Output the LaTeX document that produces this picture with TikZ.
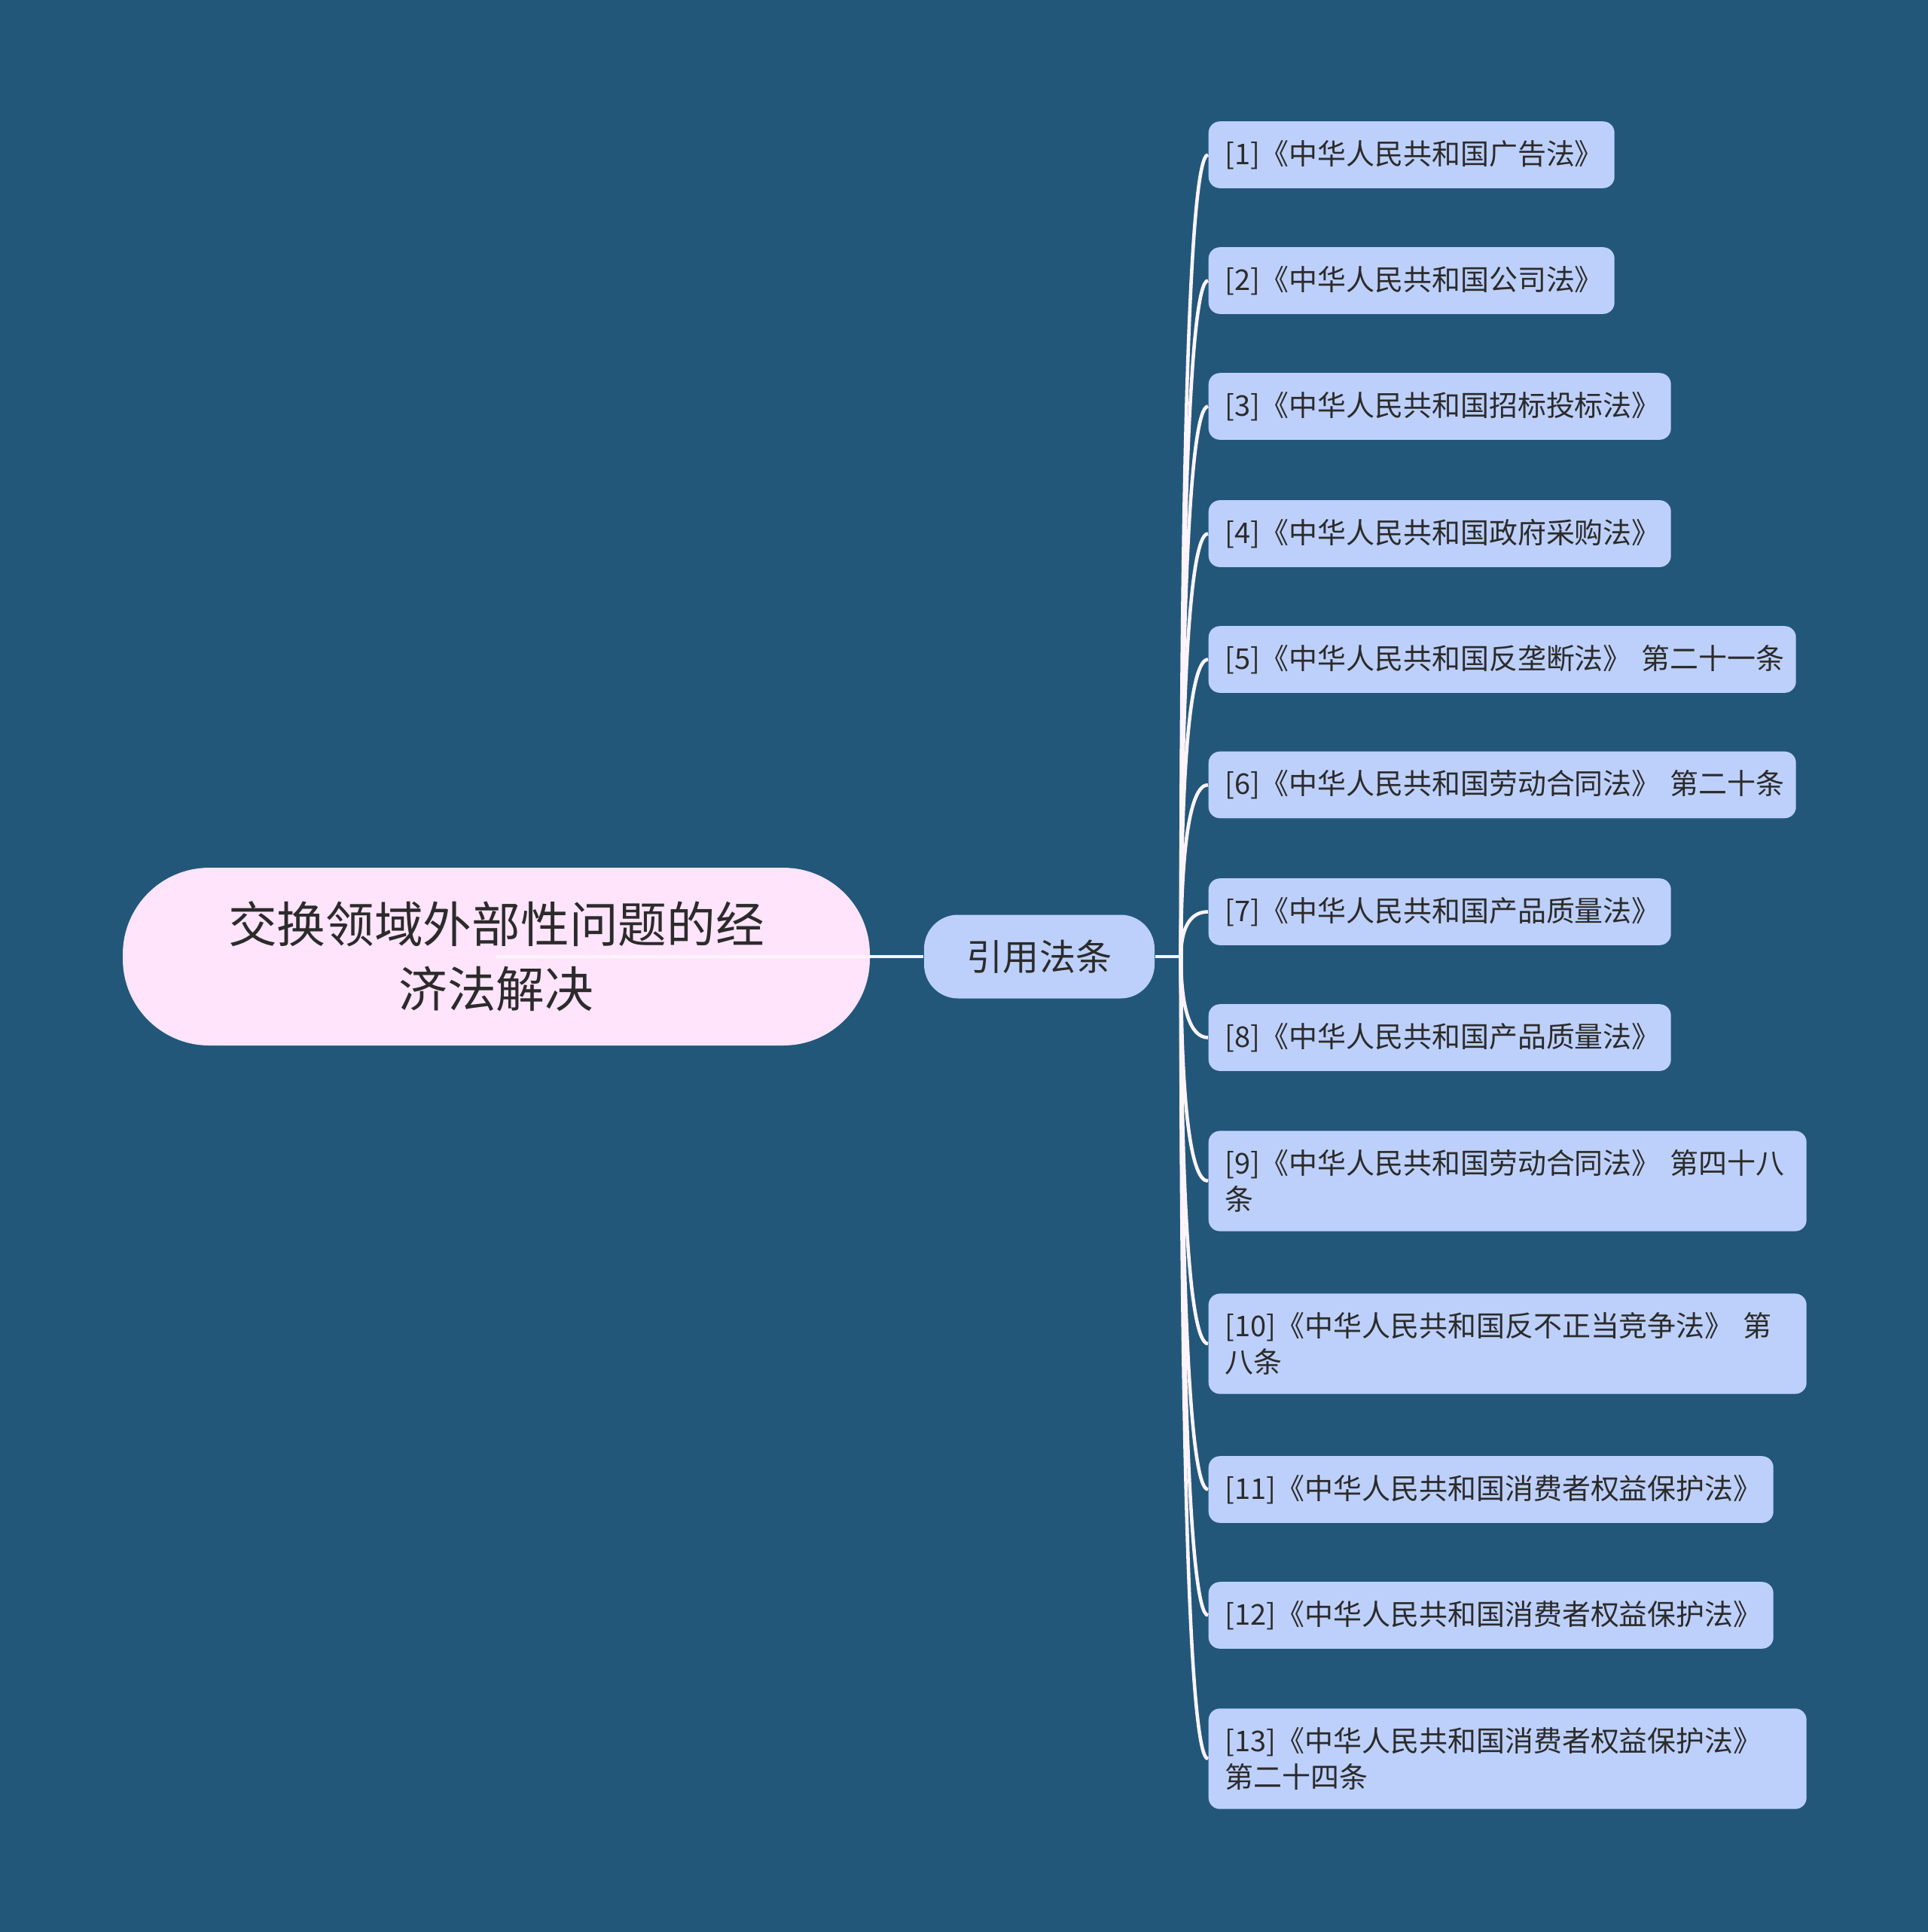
\documentclass[tikz,border=0pt]{standalone}
\usepackage{fontspec}
\setmainfont{Noto Sans CJK SC}
\usepackage{tikz}
\usetikzlibrary{calc}
\definecolor{bgblue}{HTML}{22577A}
\definecolor{rootpink}{HTML}{FFE4FB}
\definecolor{leafblue}{HTML}{BDD0FB}
\definecolor{textdark}{HTML}{2B2B2B}
\definecolor{linkwhite}{HTML}{FFF4FD}

\begin{document}
\begin{tikzpicture}

        % Setup the styles for the boxes and the links
        \tikzset{root style/.style={rectangle,
                                    rounded corners=1.15cm,
                                    minimum width=9.92cm,
                                    minimum height=2.36cm,
                                    fill=rootpink,
                                    text=textdark,
                                    align=center,
                                    font=\fontsize{18.4}{24.4}\selectfont},
                 cite style/.style={rectangle,
                                    rounded corners=0.45cm,
                                    minimum width=3.06cm,
                                    minimum height=1.11cm,
                                    fill=leafblue,
                                    text=textdark,
                                    font=\fontsize{13.7}{16}\selectfont},
                 leaf style/.style={rectangle,
                                    rounded corners=0.15cm,
                                    anchor=west,
                                    inner xsep=0.22cm,
                                    inner ysep=0.25cm,
                                    minimum height=0.86cm,
                                    fill=leafblue,
                                    text=textdark,
                                    align=left,
                                    font=\fontsize{10.8}{13.7}\selectfont},
                 link/.style={draw=linkwhite, line width=1.3pt}}

        % Background
        \fill[bgblue] (0, 0) rectangle (25.6, -25.65);

        % Draw the main boxes
        \node[root style] at (6.59, -12.70)   (root)  {交换领域外部性问题的经\\济法解决};
        \node[cite style] at (13.80, -12.70)  (cite)  {引用法条};
        \coordinate (j) at (15.68, -12.70);

        % Draw the leaves
        \foreach \i/\y/\tw/\t in {
                1/2.055/4.95/{[1]《中华人民共和国广告法》},
                2/3.725/4.95/{[2]《中华人民共和国公司法》},
                3/5.395/5.70/{[3]《中华人民共和国招标投标法》},
                4/7.085/5.70/{[4]《中华人民共和国政府采购法》},
                5/8.755/7.36/{[5]《中华人民共和国反垄断法》~第二十一条},
                6/10.42/7.36/{[6]《中华人民共和国劳动合同法》~第二十条},
                7/12.105/5.70/{[7]《中华人民共和国产品质量法》},
                8/13.775/5.70/{[8]《中华人民共和国产品质量法》},
                9/15.68/7.50/{[9]《中华人民共和国劳动合同法》 第四十八\\条},
                10/17.84/7.50/{[10]《中华人民共和国反不正当竞争法》 第\\八条},
                11/19.775/7.06/{[11]《中华人民共和国消费者权益保护法》},
                12/21.445/7.06/{[12]《中华人民共和国消费者权益保护法》},
                13/23.35/7.50/{[13]《中华人民共和国消费者权益保护法》\\第二十四条}}
            \node[leaf style, text width=\tw cm] at (16.04, -\y) (l\i) {\t};

        % Connect the boxes
        \draw[link] (root.center) -- (cite.west);
        \draw[link] (cite.east) -- (j);
        \foreach \i in {1,...,13}
            \draw[link] (j) .. controls ($(j)!0.6!(j |- l\i.west)$)
                             and ([xshift=-0.25cm]l\i.west) .. (l\i.west);
\end{tikzpicture}
\end{document}
